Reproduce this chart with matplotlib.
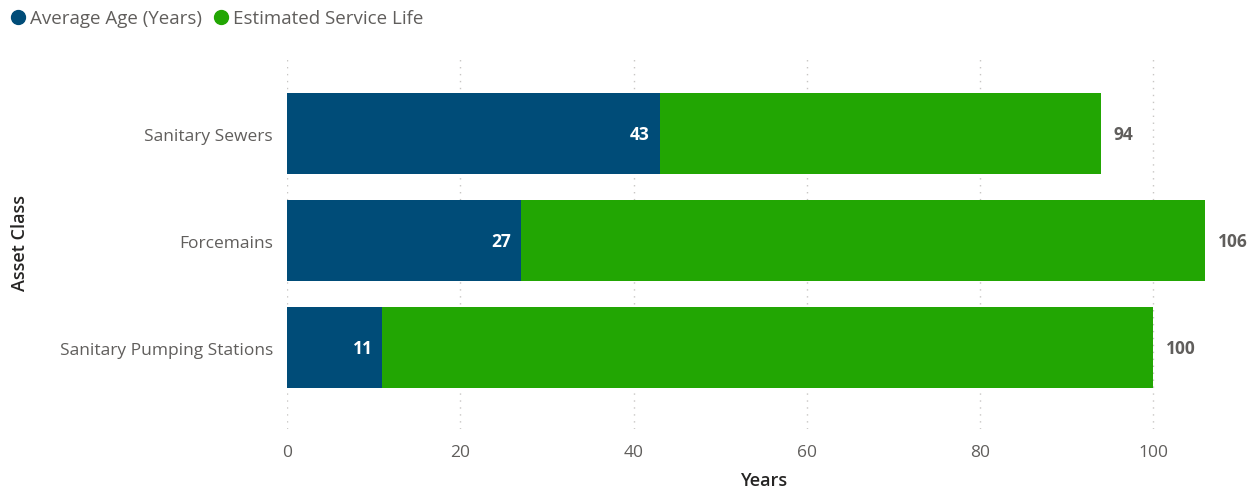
import matplotlib.pyplot as plt
from matplotlib.lines import Line2D

plt.rcParams['font.family'] = ['Open Sans', 'DejaVu Sans']

# data
assets = ["Sanitary Sewers", "Forcemains", "Sanitary Pumping Stations"]
avg_age = [43, 27, 11]
service_life = [94, 106, 100]

blue = "#004C78"
green = "#22A603"
grey = "#605E5C"

fig = plt.figure(figsize=(12.49, 4.89), dpi=100)
ax = fig.add_axes([287 / 1249, 1 - 430 / 489, (1240 - 287) / 1249, 375 / 489])

y = list(range(len(assets)))
ax.barh(y, service_life, height=0.757, color=green, zorder=2)
ax.barh(y, avg_age, height=0.757, color=blue, zorder=3)

for yi, a, s in zip(y, avg_age, service_life):
    ax.annotate(str(a), (a, yi), xytext=(-7, 0), textcoords="offset points",
                ha="right", va="center", color="white", fontsize=12.5,
                fontweight="bold", zorder=4)
    ax.annotate(str(s), (s, yi), xytext=(9, 0), textcoords="offset points",
                ha="left", va="center", color=grey, fontsize=12.5,
                fontweight="bold", zorder=4)

ax.set_xlim(0, 110)
ax.set_ylim(2.76, -0.743)
ax.set_yticks(y)
ax.set_yticklabels(assets)
ax.set_xticks([0, 20, 40, 60, 80, 100])
ax.tick_params(length=0, labelsize=12.5, labelcolor=grey)
ax.tick_params(axis="x", pad=11)
ax.tick_params(axis="y", pad=10)
for sp in ax.spines.values():
    sp.set_visible(False)
ax.grid(axis="x", linestyle=(0, (1, 4)), color="#C8C6C4", linewidth=1, zorder=0)
ax.set_axisbelow(True)

ax.set_xlabel("Years", fontsize=13, color="#252423", fontweight="semibold", labelpad=8)
fig.text(20 / 1249, 1 - 243 / 489, "Asset Class", rotation=90, ha="center", va="center",
         fontsize=13, color="#252423", fontweight="semibold")

handles = [Line2D([], [], marker="o", linestyle="", color=blue, markersize=10),
           Line2D([], [], marker="o", linestyle="", color=green, markersize=10)]
fig.legend(handles, ["Average Age (Years)", "Estimated Service Life"],
           loc="upper left", bbox_to_anchor=(-0.009, 1.0), ncol=2, frameon=False,
           fontsize=13.5, labelcolor=grey, handletextpad=-0.35, columnspacing=0.0,
           borderaxespad=0.15)

fig.savefig("out.png", dpi=100)
